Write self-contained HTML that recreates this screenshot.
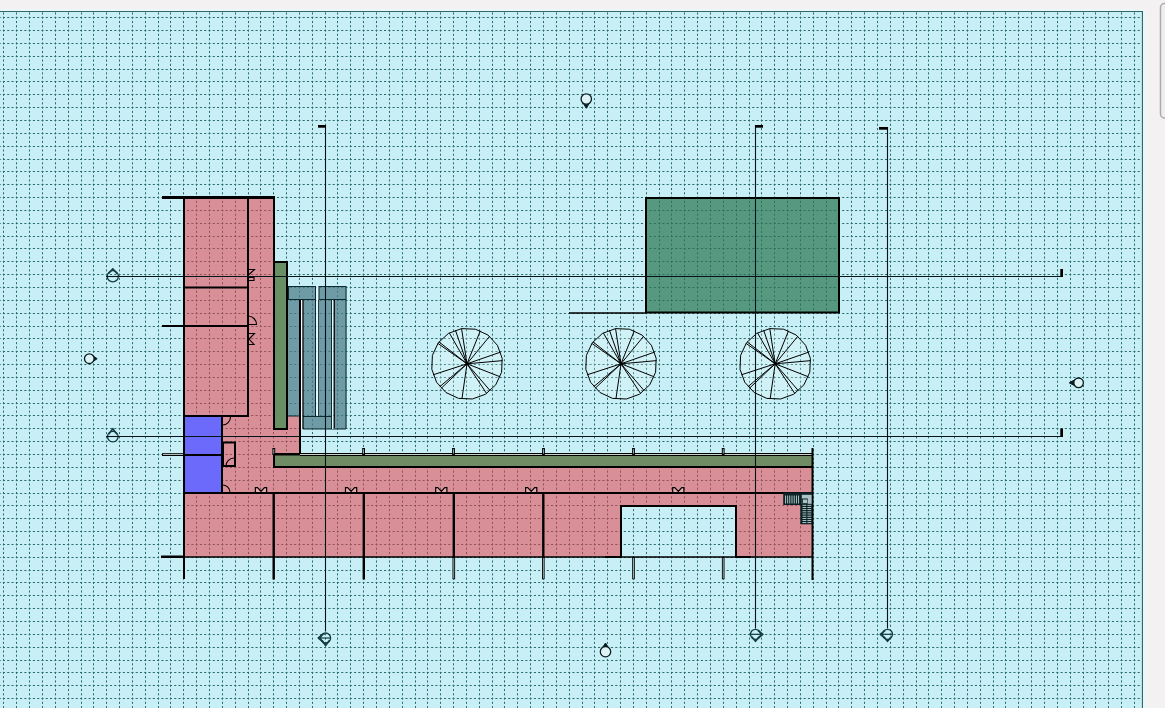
<!DOCTYPE html>
<html><head><meta charset="utf-8">
<style>
html,body{margin:0;padding:0;background:#f3f1f1;overflow:hidden;width:1165px;height:708px;font-family:"Liberation Sans",sans-serif;}
#wrap{position:relative;width:1165px;height:708px;}
svg{position:absolute;left:0;top:0;}
</style></head>
<body><div id="wrap">
<svg width="1165" height="708" viewBox="0 0 1165 708">
<g>
<rect x="0" y="0" width="1165" height="708" fill="#f3f1f1"/>
<rect x="0" y="9" width="1143" height="1.5" fill="#eaf6f7"/>
<rect x="0" y="11" width="1143" height="697" fill="#c7eff5"/>
<g stroke="#2a6c6c" stroke-width="1.0"><line x1="3.50" y1="11" x2="3.50" y2="708" stroke-dasharray="2.1 2.182" stroke-dashoffset="2.884"/><line x1="16.50" y1="11" x2="16.50" y2="708" stroke-dasharray="2.1 2.182" stroke-dashoffset="2.884"/><line x1="29.50" y1="11" x2="29.50" y2="708" stroke-dasharray="2.1 2.182" stroke-dashoffset="2.884"/><line x1="42.50" y1="11" x2="42.50" y2="708" stroke-dasharray="2.1 2.182" stroke-dashoffset="2.884"/><line x1="55.50" y1="11" x2="55.50" y2="708" stroke-dasharray="2.1 2.182" stroke-dashoffset="2.884"/><line x1="68.50" y1="11" x2="68.50" y2="708" stroke-dasharray="2.1 2.182" stroke-dashoffset="2.884"/><line x1="81.50" y1="11" x2="81.50" y2="708" stroke-dasharray="2.1 2.182" stroke-dashoffset="2.884"/><line x1="93.50" y1="11" x2="93.50" y2="708" stroke-dasharray="2.1 2.182" stroke-dashoffset="2.884"/><line x1="106.50" y1="11" x2="106.50" y2="708" stroke-dasharray="2.1 2.182" stroke-dashoffset="2.884"/><line x1="119.50" y1="11" x2="119.50" y2="708" stroke-dasharray="2.1 2.182" stroke-dashoffset="2.884"/><line x1="132.50" y1="11" x2="132.50" y2="708" stroke-dasharray="2.1 2.182" stroke-dashoffset="2.884"/><line x1="145.50" y1="11" x2="145.50" y2="708" stroke-dasharray="2.1 2.182" stroke-dashoffset="2.884"/><line x1="158.50" y1="11" x2="158.50" y2="708" stroke-dasharray="2.1 2.182" stroke-dashoffset="2.884"/><line x1="170.50" y1="11" x2="170.50" y2="708" stroke-dasharray="2.1 2.182" stroke-dashoffset="2.884"/><line x1="183.50" y1="11" x2="183.50" y2="708" stroke-dasharray="2.1 2.182" stroke-dashoffset="2.884"/><line x1="196.50" y1="11" x2="196.50" y2="708" stroke-dasharray="2.1 2.182" stroke-dashoffset="2.884"/><line x1="209.50" y1="11" x2="209.50" y2="708" stroke-dasharray="2.1 2.182" stroke-dashoffset="2.884"/><line x1="222.50" y1="11" x2="222.50" y2="708" stroke-dasharray="2.1 2.182" stroke-dashoffset="2.884"/><line x1="235.50" y1="11" x2="235.50" y2="708" stroke-dasharray="2.1 2.182" stroke-dashoffset="2.884"/><line x1="248.50" y1="11" x2="248.50" y2="708" stroke-dasharray="2.1 2.182" stroke-dashoffset="2.884"/><line x1="260.50" y1="11" x2="260.50" y2="708" stroke-dasharray="2.1 2.182" stroke-dashoffset="2.884"/><line x1="273.50" y1="11" x2="273.50" y2="708" stroke-dasharray="2.1 2.182" stroke-dashoffset="2.884"/><line x1="286.50" y1="11" x2="286.50" y2="708" stroke-dasharray="2.1 2.182" stroke-dashoffset="2.884"/><line x1="299.50" y1="11" x2="299.50" y2="708" stroke-dasharray="2.1 2.182" stroke-dashoffset="2.884"/><line x1="312.50" y1="11" x2="312.50" y2="708" stroke-dasharray="2.1 2.182" stroke-dashoffset="2.884"/><line x1="325.50" y1="11" x2="325.50" y2="708" stroke-dasharray="2.1 2.182" stroke-dashoffset="2.884"/><line x1="337.50" y1="11" x2="337.50" y2="708" stroke-dasharray="2.1 2.182" stroke-dashoffset="2.884"/><line x1="350.50" y1="11" x2="350.50" y2="708" stroke-dasharray="2.1 2.182" stroke-dashoffset="2.884"/><line x1="363.50" y1="11" x2="363.50" y2="708" stroke-dasharray="2.1 2.182" stroke-dashoffset="2.884"/><line x1="376.50" y1="11" x2="376.50" y2="708" stroke-dasharray="2.1 2.182" stroke-dashoffset="2.884"/><line x1="389.50" y1="11" x2="389.50" y2="708" stroke-dasharray="2.1 2.182" stroke-dashoffset="2.884"/><line x1="402.50" y1="11" x2="402.50" y2="708" stroke-dasharray="2.1 2.182" stroke-dashoffset="2.884"/><line x1="415.50" y1="11" x2="415.50" y2="708" stroke-dasharray="2.1 2.182" stroke-dashoffset="2.884"/><line x1="427.50" y1="11" x2="427.50" y2="708" stroke-dasharray="2.1 2.182" stroke-dashoffset="2.884"/><line x1="440.50" y1="11" x2="440.50" y2="708" stroke-dasharray="2.1 2.182" stroke-dashoffset="2.884"/><line x1="453.50" y1="11" x2="453.50" y2="708" stroke-dasharray="2.1 2.182" stroke-dashoffset="2.884"/><line x1="466.50" y1="11" x2="466.50" y2="708" stroke-dasharray="2.1 2.182" stroke-dashoffset="2.884"/><line x1="479.50" y1="11" x2="479.50" y2="708" stroke-dasharray="2.1 2.182" stroke-dashoffset="2.884"/><line x1="492.50" y1="11" x2="492.50" y2="708" stroke-dasharray="2.1 2.182" stroke-dashoffset="2.884"/><line x1="504.50" y1="11" x2="504.50" y2="708" stroke-dasharray="2.1 2.182" stroke-dashoffset="2.884"/><line x1="517.50" y1="11" x2="517.50" y2="708" stroke-dasharray="2.1 2.182" stroke-dashoffset="2.884"/><line x1="530.50" y1="11" x2="530.50" y2="708" stroke-dasharray="2.1 2.182" stroke-dashoffset="2.884"/><line x1="543.50" y1="11" x2="543.50" y2="708" stroke-dasharray="2.1 2.182" stroke-dashoffset="2.884"/><line x1="556.50" y1="11" x2="556.50" y2="708" stroke-dasharray="2.1 2.182" stroke-dashoffset="2.884"/><line x1="569.50" y1="11" x2="569.50" y2="708" stroke-dasharray="2.1 2.182" stroke-dashoffset="2.884"/><line x1="582.50" y1="11" x2="582.50" y2="708" stroke-dasharray="2.1 2.182" stroke-dashoffset="2.884"/><line x1="594.50" y1="11" x2="594.50" y2="708" stroke-dasharray="2.1 2.182" stroke-dashoffset="2.884"/><line x1="607.50" y1="11" x2="607.50" y2="708" stroke-dasharray="2.1 2.182" stroke-dashoffset="2.884"/><line x1="620.50" y1="11" x2="620.50" y2="708" stroke-dasharray="2.1 2.182" stroke-dashoffset="2.884"/><line x1="633.50" y1="11" x2="633.50" y2="708" stroke-dasharray="2.1 2.182" stroke-dashoffset="2.884"/><line x1="646.50" y1="11" x2="646.50" y2="708" stroke-dasharray="2.1 2.182" stroke-dashoffset="2.884"/><line x1="659.50" y1="11" x2="659.50" y2="708" stroke-dasharray="2.1 2.182" stroke-dashoffset="2.884"/><line x1="671.50" y1="11" x2="671.50" y2="708" stroke-dasharray="2.1 2.182" stroke-dashoffset="2.884"/><line x1="684.50" y1="11" x2="684.50" y2="708" stroke-dasharray="2.1 2.182" stroke-dashoffset="2.884"/><line x1="697.50" y1="11" x2="697.50" y2="708" stroke-dasharray="2.1 2.182" stroke-dashoffset="2.884"/><line x1="710.50" y1="11" x2="710.50" y2="708" stroke-dasharray="2.1 2.182" stroke-dashoffset="2.884"/><line x1="723.50" y1="11" x2="723.50" y2="708" stroke-dasharray="2.1 2.182" stroke-dashoffset="2.884"/><line x1="736.50" y1="11" x2="736.50" y2="708" stroke-dasharray="2.1 2.182" stroke-dashoffset="2.884"/><line x1="749.50" y1="11" x2="749.50" y2="708" stroke-dasharray="2.1 2.182" stroke-dashoffset="2.884"/><line x1="761.50" y1="11" x2="761.50" y2="708" stroke-dasharray="2.1 2.182" stroke-dashoffset="2.884"/><line x1="774.50" y1="11" x2="774.50" y2="708" stroke-dasharray="2.1 2.182" stroke-dashoffset="2.884"/><line x1="787.50" y1="11" x2="787.50" y2="708" stroke-dasharray="2.1 2.182" stroke-dashoffset="2.884"/><line x1="800.50" y1="11" x2="800.50" y2="708" stroke-dasharray="2.1 2.182" stroke-dashoffset="2.884"/><line x1="813.50" y1="11" x2="813.50" y2="708" stroke-dasharray="2.1 2.182" stroke-dashoffset="2.884"/><line x1="826.50" y1="11" x2="826.50" y2="708" stroke-dasharray="2.1 2.182" stroke-dashoffset="2.884"/><line x1="838.50" y1="11" x2="838.50" y2="708" stroke-dasharray="2.1 2.182" stroke-dashoffset="2.884"/><line x1="851.50" y1="11" x2="851.50" y2="708" stroke-dasharray="2.1 2.182" stroke-dashoffset="2.884"/><line x1="864.50" y1="11" x2="864.50" y2="708" stroke-dasharray="2.1 2.182" stroke-dashoffset="2.884"/><line x1="877.50" y1="11" x2="877.50" y2="708" stroke-dasharray="2.1 2.182" stroke-dashoffset="2.884"/><line x1="890.50" y1="11" x2="890.50" y2="708" stroke-dasharray="2.1 2.182" stroke-dashoffset="2.884"/><line x1="903.50" y1="11" x2="903.50" y2="708" stroke-dasharray="2.1 2.182" stroke-dashoffset="2.884"/><line x1="916.50" y1="11" x2="916.50" y2="708" stroke-dasharray="2.1 2.182" stroke-dashoffset="2.884"/><line x1="928.50" y1="11" x2="928.50" y2="708" stroke-dasharray="2.1 2.182" stroke-dashoffset="2.884"/><line x1="941.50" y1="11" x2="941.50" y2="708" stroke-dasharray="2.1 2.182" stroke-dashoffset="2.884"/><line x1="954.50" y1="11" x2="954.50" y2="708" stroke-dasharray="2.1 2.182" stroke-dashoffset="2.884"/><line x1="967.50" y1="11" x2="967.50" y2="708" stroke-dasharray="2.1 2.182" stroke-dashoffset="2.884"/><line x1="980.50" y1="11" x2="980.50" y2="708" stroke-dasharray="2.1 2.182" stroke-dashoffset="2.884"/><line x1="993.50" y1="11" x2="993.50" y2="708" stroke-dasharray="2.1 2.182" stroke-dashoffset="2.884"/><line x1="1005.50" y1="11" x2="1005.50" y2="708" stroke-dasharray="2.1 2.182" stroke-dashoffset="2.884"/><line x1="1018.50" y1="11" x2="1018.50" y2="708" stroke-dasharray="2.1 2.182" stroke-dashoffset="2.884"/><line x1="1031.50" y1="11" x2="1031.50" y2="708" stroke-dasharray="2.1 2.182" stroke-dashoffset="2.884"/><line x1="1044.50" y1="11" x2="1044.50" y2="708" stroke-dasharray="2.1 2.182" stroke-dashoffset="2.884"/><line x1="1057.50" y1="11" x2="1057.50" y2="708" stroke-dasharray="2.1 2.182" stroke-dashoffset="2.884"/><line x1="1070.50" y1="11" x2="1070.50" y2="708" stroke-dasharray="2.1 2.182" stroke-dashoffset="2.884"/><line x1="1083.50" y1="11" x2="1083.50" y2="708" stroke-dasharray="2.1 2.182" stroke-dashoffset="2.884"/><line x1="1095.50" y1="11" x2="1095.50" y2="708" stroke-dasharray="2.1 2.182" stroke-dashoffset="2.884"/><line x1="1108.50" y1="11" x2="1108.50" y2="708" stroke-dasharray="2.1 2.182" stroke-dashoffset="2.884"/><line x1="1121.50" y1="11" x2="1121.50" y2="708" stroke-dasharray="2.1 2.182" stroke-dashoffset="2.884"/><line x1="1134.50" y1="11" x2="1134.50" y2="708" stroke-dasharray="2.1 2.182" stroke-dashoffset="2.884"/><line x1="0" y1="17.50" x2="1143" y2="17.50" stroke-dasharray="2.1 2.182" stroke-dashoffset="1.372"/><line x1="0" y1="30.50" x2="1143" y2="30.50" stroke-dasharray="2.1 2.182" stroke-dashoffset="1.372"/><line x1="0" y1="43.50" x2="1143" y2="43.50" stroke-dasharray="2.1 2.182" stroke-dashoffset="1.372"/><line x1="0" y1="56.50" x2="1143" y2="56.50" stroke-dasharray="2.1 2.182" stroke-dashoffset="1.372"/><line x1="0" y1="69.50" x2="1143" y2="69.50" stroke-dasharray="2.1 2.182" stroke-dashoffset="1.372"/><line x1="0" y1="81.50" x2="1143" y2="81.50" stroke-dasharray="2.1 2.182" stroke-dashoffset="1.372"/><line x1="0" y1="94.50" x2="1143" y2="94.50" stroke-dasharray="2.1 2.182" stroke-dashoffset="1.372"/><line x1="0" y1="107.50" x2="1143" y2="107.50" stroke-dasharray="2.1 2.182" stroke-dashoffset="1.372"/><line x1="0" y1="120.50" x2="1143" y2="120.50" stroke-dasharray="2.1 2.182" stroke-dashoffset="1.372"/><line x1="0" y1="133.50" x2="1143" y2="133.50" stroke-dasharray="2.1 2.182" stroke-dashoffset="1.372"/><line x1="0" y1="146.50" x2="1143" y2="146.50" stroke-dasharray="2.1 2.182" stroke-dashoffset="1.372"/><line x1="0" y1="159.50" x2="1143" y2="159.50" stroke-dasharray="2.1 2.182" stroke-dashoffset="1.372"/><line x1="0" y1="171.50" x2="1143" y2="171.50" stroke-dasharray="2.1 2.182" stroke-dashoffset="1.372"/><line x1="0" y1="184.50" x2="1143" y2="184.50" stroke-dasharray="2.1 2.182" stroke-dashoffset="1.372"/><line x1="0" y1="197.50" x2="1143" y2="197.50" stroke-dasharray="2.1 2.182" stroke-dashoffset="1.372"/><line x1="0" y1="210.50" x2="1143" y2="210.50" stroke-dasharray="2.1 2.182" stroke-dashoffset="1.372"/><line x1="0" y1="223.50" x2="1143" y2="223.50" stroke-dasharray="2.1 2.182" stroke-dashoffset="1.372"/><line x1="0" y1="236.50" x2="1143" y2="236.50" stroke-dasharray="2.1 2.182" stroke-dashoffset="1.372"/><line x1="0" y1="248.50" x2="1143" y2="248.50" stroke-dasharray="2.1 2.182" stroke-dashoffset="1.372"/><line x1="0" y1="261.50" x2="1143" y2="261.50" stroke-dasharray="2.1 2.182" stroke-dashoffset="1.372"/><line x1="0" y1="274.50" x2="1143" y2="274.50" stroke-dasharray="2.1 2.182" stroke-dashoffset="1.372"/><line x1="0" y1="287.50" x2="1143" y2="287.50" stroke-dasharray="2.1 2.182" stroke-dashoffset="1.372"/><line x1="0" y1="300.50" x2="1143" y2="300.50" stroke-dasharray="2.1 2.182" stroke-dashoffset="1.372"/><line x1="0" y1="313.50" x2="1143" y2="313.50" stroke-dasharray="2.1 2.182" stroke-dashoffset="1.372"/><line x1="0" y1="326.50" x2="1143" y2="326.50" stroke-dasharray="2.1 2.182" stroke-dashoffset="1.372"/><line x1="0" y1="338.50" x2="1143" y2="338.50" stroke-dasharray="2.1 2.182" stroke-dashoffset="1.372"/><line x1="0" y1="351.50" x2="1143" y2="351.50" stroke-dasharray="2.1 2.182" stroke-dashoffset="1.372"/><line x1="0" y1="364.50" x2="1143" y2="364.50" stroke-dasharray="2.1 2.182" stroke-dashoffset="1.372"/><line x1="0" y1="377.50" x2="1143" y2="377.50" stroke-dasharray="2.1 2.182" stroke-dashoffset="1.372"/><line x1="0" y1="390.50" x2="1143" y2="390.50" stroke-dasharray="2.1 2.182" stroke-dashoffset="1.372"/><line x1="0" y1="403.50" x2="1143" y2="403.50" stroke-dasharray="2.1 2.182" stroke-dashoffset="1.372"/><line x1="0" y1="415.50" x2="1143" y2="415.50" stroke-dasharray="2.1 2.182" stroke-dashoffset="1.372"/><line x1="0" y1="428.50" x2="1143" y2="428.50" stroke-dasharray="2.1 2.182" stroke-dashoffset="1.372"/><line x1="0" y1="441.50" x2="1143" y2="441.50" stroke-dasharray="2.1 2.182" stroke-dashoffset="1.372"/><line x1="0" y1="454.50" x2="1143" y2="454.50" stroke-dasharray="2.1 2.182" stroke-dashoffset="1.372"/><line x1="0" y1="467.50" x2="1143" y2="467.50" stroke-dasharray="2.1 2.182" stroke-dashoffset="1.372"/><line x1="0" y1="480.50" x2="1143" y2="480.50" stroke-dasharray="2.1 2.182" stroke-dashoffset="1.372"/><line x1="0" y1="493.50" x2="1143" y2="493.50" stroke-dasharray="2.1 2.182" stroke-dashoffset="1.372"/><line x1="0" y1="505.50" x2="1143" y2="505.50" stroke-dasharray="2.1 2.182" stroke-dashoffset="1.372"/><line x1="0" y1="518.50" x2="1143" y2="518.50" stroke-dasharray="2.1 2.182" stroke-dashoffset="1.372"/><line x1="0" y1="531.50" x2="1143" y2="531.50" stroke-dasharray="2.1 2.182" stroke-dashoffset="1.372"/><line x1="0" y1="544.50" x2="1143" y2="544.50" stroke-dasharray="2.1 2.182" stroke-dashoffset="1.372"/><line x1="0" y1="557.50" x2="1143" y2="557.50" stroke-dasharray="2.1 2.182" stroke-dashoffset="1.372"/><line x1="0" y1="570.50" x2="1143" y2="570.50" stroke-dasharray="2.1 2.182" stroke-dashoffset="1.372"/><line x1="0" y1="582.50" x2="1143" y2="582.50" stroke-dasharray="2.1 2.182" stroke-dashoffset="1.372"/><line x1="0" y1="595.50" x2="1143" y2="595.50" stroke-dasharray="2.1 2.182" stroke-dashoffset="1.372"/><line x1="0" y1="608.50" x2="1143" y2="608.50" stroke-dasharray="2.1 2.182" stroke-dashoffset="1.372"/><line x1="0" y1="621.50" x2="1143" y2="621.50" stroke-dasharray="2.1 2.182" stroke-dashoffset="1.372"/><line x1="0" y1="634.50" x2="1143" y2="634.50" stroke-dasharray="2.1 2.182" stroke-dashoffset="1.372"/><line x1="0" y1="647.50" x2="1143" y2="647.50" stroke-dasharray="2.1 2.182" stroke-dashoffset="1.372"/><line x1="0" y1="660.50" x2="1143" y2="660.50" stroke-dasharray="2.1 2.182" stroke-dashoffset="1.372"/><line x1="0" y1="672.50" x2="1143" y2="672.50" stroke-dasharray="2.1 2.182" stroke-dashoffset="1.372"/><line x1="0" y1="685.50" x2="1143" y2="685.50" stroke-dasharray="2.1 2.182" stroke-dashoffset="1.372"/><line x1="0" y1="698.50" x2="1143" y2="698.50" stroke-dasharray="2.1 2.182" stroke-dashoffset="1.372"/></g>
<path fill="rgba(230,63,72,0.55)" fill-rule="evenodd" d="M184 197 H274 V262 H287 V286 H288 V416 H300 V454 H274 V467 H812 V557 H184 Z M621 506 H736 V557 H621 Z"/>
<path fill="rgba(230,63,72,0.55)" d="M274 429 H288 V416 H274 Z" opacity="0"/>
<rect x="184" y="416" width="38" height="77" fill="#6c6afa" />
<rect x="274" y="262" width="13.5" height="167" fill="#698f64" />
<rect x="274" y="455" width="538" height="12" fill="#708c64" />
<rect x="288" y="286" width="28" height="14" fill="rgba(80,125,138,0.74)" />
<rect x="288" y="300" width="12" height="116" fill="rgba(80,125,138,0.74)" />
<rect x="303" y="300" width="13" height="116" fill="rgba(80,125,138,0.74)" />
<rect x="303" y="416" width="28.5" height="13" fill="rgba(80,125,138,0.74)" />
<rect x="318.5" y="286" width="28" height="14" fill="rgba(80,125,138,0.74)" />
<rect x="318.5" y="300" width="13" height="116" fill="rgba(80,125,138,0.74)" />
<rect x="335" y="300" width="11.5" height="129" fill="rgba(80,125,138,0.74)" />
<rect x="646" y="197.5" width="193.5" height="115" fill="rgba(45,118,85,0.72)" />
<rect x="162" y="196" width="113" height="3" fill="#000" />
<rect x="183" y="197" width="2" height="382" fill="#000" />
<rect x="247" y="197" width="2" height="220" fill="#000" />
<rect x="273" y="197" width="2" height="65" fill="#000" />
<rect x="184" y="286.5" width="64" height="2" fill="#000" />
<rect x="162" y="325" width="86" height="2" fill="#000" />
<rect x="184" y="415" width="64" height="2" fill="#000" />
<rect x="221" y="416" width="2" height="77" fill="#000" />
<rect x="162" y="454" width="60" height="2" fill="#000" />
<rect x="162" y="453.2" width="22" height="2.6" fill="#000" />
<rect x="163" y="454.1" width="20" height="0.8" fill="#dcefef" />
<rect x="223" y="442.5" width="12" height="23.5" fill="none" stroke="#000" stroke-width="2"/>
<rect x="274" y="262" width="13" height="167" fill="none" stroke="#000" stroke-width="2"/>
<rect x="299" y="300" width="2" height="155" fill="#000" />
<rect x="300" y="454" width="512" height="1" fill="#c3d3c2" />
<line x1="300" y1="453.5" x2="812" y2="453.5" stroke="#000" stroke-width="1" />
<line x1="300" y1="455.5" x2="812" y2="455.5" stroke="#000" stroke-width="1" />
<rect x="274" y="453" width="26" height="2.5" fill="#000" />
<rect x="273" y="453" width="2" height="15" fill="#000" />
<rect x="274" y="466" width="538" height="2" fill="#000" />
<rect x="272.40000000000003" y="448" width="2.8" height="7" fill="#000" />
<rect x="273.40000000000003" y="449.2" width="0.8" height="4.5" fill="#b8cfd2" />
<rect x="362.20000000000005" y="448" width="2.8" height="7" fill="#000" />
<rect x="363.20000000000005" y="449.2" width="0.8" height="4.5" fill="#b8cfd2" />
<rect x="452.1" y="448" width="2.8" height="7" fill="#000" />
<rect x="453.1" y="449.2" width="0.8" height="4.5" fill="#b8cfd2" />
<rect x="542.1" y="448" width="2.8" height="7" fill="#000" />
<rect x="543.1" y="449.2" width="0.8" height="4.5" fill="#b8cfd2" />
<rect x="632.1" y="448" width="2.8" height="7" fill="#000" />
<rect x="633.1" y="449.2" width="0.8" height="4.5" fill="#b8cfd2" />
<rect x="721.8000000000001" y="448" width="2.8" height="7" fill="#000" />
<rect x="722.8000000000001" y="449.2" width="0.8" height="4.5" fill="#b8cfd2" />
<rect x="184" y="492" width="628" height="2" fill="#000" />
<rect x="272.5" y="493" width="2.4" height="86.5" fill="#000" />
<rect x="362.6" y="493" width="2.4" height="86.5" fill="#000" />
<rect x="452.6" y="493" width="2.4" height="65" fill="#000" />
<rect x="542.0999999999999" y="493" width="2.4" height="65" fill="#000" />
<rect x="452.5" y="557" width="2.6" height="22.3" fill="#000" />
<rect x="453.40000000000003" y="558" width="0.8" height="20.5" fill="#bfd6d8" />
<rect x="542.0" y="557" width="2.6" height="22.3" fill="#000" />
<rect x="542.9" y="558" width="0.8" height="20.5" fill="#bfd6d8" />
<rect x="632.2" y="557" width="2.6" height="22.3" fill="#000" />
<rect x="633.1" y="558" width="0.8" height="20.5" fill="#bfd6d8" />
<rect x="721.9000000000001" y="557" width="2.6" height="22.3" fill="#000" />
<rect x="722.8000000000001" y="558" width="0.8" height="20.5" fill="#bfd6d8" />
<rect x="811.5" y="448" width="2" height="132" fill="#000" />
<line x1="184" y1="557" x2="812" y2="557" stroke="#000" stroke-width="1.5" />
<rect x="161" y="555.5" width="24" height="2.5" fill="#000" />
<rect x="620" y="505" width="2" height="52" fill="#000" />
<rect x="620" y="505" width="117" height="2" fill="#000" />
<rect x="735" y="505" width="2" height="52" fill="#000" />
<rect x="605" y="556" width="17" height="2" fill="#000" />
<rect x="735" y="556" width="16" height="2" fill="#000" />
<g fill="none" stroke="#0c2a30" stroke-width="1">
<rect x="288.5" y="286.5" width="27" height="13"/>
<rect x="319.0" y="286.5" width="27" height="13"/>
<line x1="315.5" y1="300" x2="315.5" y2="416"/>
<line x1="318.5" y1="300" x2="318.5" y2="416"/>
<line x1="331.5" y1="300" x2="331.5" y2="429"/>
<line x1="346" y1="300" x2="346" y2="429"/>
<line x1="303" y1="429" x2="346" y2="429"/>
<line x1="303" y1="416.5" x2="331.5" y2="416.5"/>
<line x1="288" y1="416" x2="300" y2="416"/>
</g>
<rect x="302.2" y="300" width="1.4" height="129" fill="#000" />
<rect x="333.4" y="300" width="1.5" height="128" fill="#000" />
<rect x="301" y="300" width="1.2" height="129" fill="#eef8fa" />
<rect x="316.3" y="286" width="1.8" height="130" fill="#eef8fa" />
<rect x="332.1" y="300" width="1.2" height="129" fill="#eef8fa" />
<rect x="646" y="198" width="193" height="114.5" fill="none" stroke="#000" stroke-width="2"/>
<line x1="569" y1="313" x2="646" y2="313" stroke="#000" stroke-width="1.6" />
<g fill="none" stroke="#000" stroke-width="1.1">
<path d="M248 316 A8.5 8.5 0 0 1 256.5 324.5 H248"/>
<path d="M222.5 425 A8 8 0 0 0 230.5 417"/>
<path d="M226 466 A8 8 0 0 1 234 458"/>
<path d="M222.5 485 A7.5 7.5 0 0 1 230 492.5"/>
<path d="M248.5 269.5 H254.5 L249 274.5 M249 277.5 H254 V280.5 H249"/>
<path d="M248.5 333.5 H254.5 L249 339 L254 344.5 H249"/>
</g>
<g fill="rgba(255,225,230,0.35)" stroke="#000" stroke-width="1.2">
<path d="M255.4 492.5 V487.6 H257.5 L261.0 491.4 L264.5 487.6 H266.6 V492.5 Z"/>
<path d="M345.5 492.5 V487.6 H347.6 L351.1 491.4 L354.59999999999997 487.6 H356.7 V492.5 Z"/>
<path d="M435.7 492.5 V487.6 H437.8 L441.29999999999995 491.4 L444.79999999999995 487.6 H446.9 V492.5 Z"/>
<path d="M525.6 492.5 V487.6 H527.7 L531.2 491.4 L534.7 487.6 H536.8000000000001 V492.5 Z"/>
<path d="M672.7 492.5 V487.6 H674.8000000000001 L678.3000000000001 491.4 L681.8000000000001 487.6 H683.9000000000001 V492.5 Z"/>
</g>
<rect x="783.2" y="492.5" width="29" height="12.5" fill="#0d2224" />
<rect x="800.3" y="492.5" width="11.7" height="31.8" fill="#0d2224" />
<rect x="801.8" y="494.8" width="9.8" height="9" fill="#a9c3c8" />
<rect x="801.8" y="498.5" width="6" height="5.3" fill="#0d2224" />
<rect x="802.8" y="499.5" width="4.5" height="3.5" fill="#a9c3c8" />
<rect x="785.15" y="495.5" width="0.9" height="8" fill="#b9d6da" />
<rect x="787.25" y="495.5" width="0.9" height="8" fill="#b9d6da" />
<rect x="789.3499999999999" y="495.5" width="0.9" height="8" fill="#b9d6da" />
<rect x="791.55" y="495.5" width="0.9" height="8" fill="#b9d6da" />
<rect x="793.75" y="495.5" width="0.9" height="8" fill="#b9d6da" />
<rect x="795.9499999999999" y="495.5" width="0.9" height="8" fill="#b9d6da" />
<rect x="798.15" y="495.5" width="0.9" height="8" fill="#b9d6da" />
<rect x="802.5" y="504.85" width="3.8" height="0.9" fill="#b9d6da" />
<rect x="807.4" y="504.85" width="3.8" height="0.9" fill="#b9d6da" />
<rect x="802.5" y="507.05" width="3.8" height="0.9" fill="#b9d6da" />
<rect x="807.4" y="507.05" width="3.8" height="0.9" fill="#b9d6da" />
<rect x="802.5" y="509.15000000000003" width="3.8" height="0.9" fill="#b9d6da" />
<rect x="807.4" y="509.15000000000003" width="3.8" height="0.9" fill="#b9d6da" />
<rect x="802.5" y="511.35" width="3.8" height="0.9" fill="#b9d6da" />
<rect x="807.4" y="511.35" width="3.8" height="0.9" fill="#b9d6da" />
<rect x="802.5" y="513.55" width="3.8" height="0.9" fill="#b9d6da" />
<rect x="807.4" y="513.55" width="3.8" height="0.9" fill="#b9d6da" />
<rect x="802.5" y="515.75" width="3.8" height="0.9" fill="#b9d6da" />
<rect x="807.4" y="515.75" width="3.8" height="0.9" fill="#b9d6da" />
<rect x="802.5" y="517.9499999999999" width="3.8" height="0.9" fill="#b9d6da" />
<rect x="807.4" y="517.9499999999999" width="3.8" height="0.9" fill="#b9d6da" />
<rect x="802.5" y="520.05" width="3.8" height="0.9" fill="#b9d6da" />
<rect x="807.4" y="520.05" width="3.8" height="0.9" fill="#b9d6da" />
<rect x="802.5" y="522.15" width="3.8" height="0.9" fill="#b9d6da" />
<rect x="807.4" y="522.15" width="3.8" height="0.9" fill="#b9d6da" />
<polygon points="461.55,328.62 475.43,329.21 488.03,335.07 497.42,345.31 502.18,358.35 501.59,372.23 495.73,384.83 485.49,394.22 472.45,398.98 458.57,398.39 445.97,392.53 436.58,382.29 431.82,369.25 432.41,355.37 438.27,342.77 448.51,333.38" fill="rgba(235,248,250,0.25)" stroke="#000" stroke-width="1"/>
<path d="M467.0 363.8 L437.84 343.38 M467.0 363.8 L438.95 341.88 M467.0 363.8 L449.31 332.91 M467.0 363.8 L455.41 330.14 M467.0 363.8 L461.55 328.62 M467.0 363.8 L480.34 330.79 M467.0 363.8 L489.60 336.29 M467.0 363.8 L500.62 352.09 M467.0 363.8 L502.46 360.64 M467.0 363.8 L500.15 376.79 M467.0 363.8 L490.26 390.75 M467.0 363.8 L486.60 393.52 M467.0 363.8 L461.92 399.04 M467.0 363.8 L441.18 388.31 M467.0 363.8 L439.73 386.68 M467.0 363.8 L433.14 374.80" stroke="#000" stroke-width="1" fill="none"/>
<circle cx="467" cy="363.8" r="1.6" fill="#000"/>
<polygon points="615.55,328.62 629.43,329.21 642.03,335.07 651.42,345.31 656.18,358.35 655.59,372.23 649.73,384.83 639.49,394.22 626.45,398.98 612.57,398.39 599.97,392.53 590.58,382.29 585.82,369.25 586.41,355.37 592.27,342.77 602.51,333.38" fill="rgba(235,248,250,0.25)" stroke="#000" stroke-width="1"/>
<path d="M621.0 363.8 L591.84 343.38 M621.0 363.8 L592.95 341.88 M621.0 363.8 L603.31 332.91 M621.0 363.8 L609.41 330.14 M621.0 363.8 L615.55 328.62 M621.0 363.8 L634.34 330.79 M621.0 363.8 L643.60 336.29 M621.0 363.8 L654.62 352.09 M621.0 363.8 L656.46 360.64 M621.0 363.8 L654.15 376.79 M621.0 363.8 L644.26 390.75 M621.0 363.8 L640.60 393.52 M621.0 363.8 L615.92 399.04 M621.0 363.8 L595.18 388.31 M621.0 363.8 L593.73 386.68 M621.0 363.8 L587.14 374.80" stroke="#000" stroke-width="1" fill="none"/>
<circle cx="621" cy="363.8" r="1.6" fill="#000"/>
<polygon points="769.75,328.62 783.63,329.21 796.23,335.07 805.62,345.31 810.38,358.35 809.79,372.23 803.93,384.83 793.69,394.22 780.65,398.98 766.77,398.39 754.17,392.53 744.78,382.29 740.02,369.25 740.61,355.37 746.47,342.77 756.71,333.38" fill="rgba(235,248,250,0.25)" stroke="#000" stroke-width="1"/>
<path d="M775.2 363.8 L746.04 343.38 M775.2 363.8 L747.15 341.88 M775.2 363.8 L757.51 332.91 M775.2 363.8 L763.61 330.14 M775.2 363.8 L769.75 328.62 M775.2 363.8 L788.54 330.79 M775.2 363.8 L797.80 336.29 M775.2 363.8 L808.82 352.09 M775.2 363.8 L810.66 360.64 M775.2 363.8 L808.35 376.79 M775.2 363.8 L798.46 390.75 M775.2 363.8 L794.80 393.52 M775.2 363.8 L770.12 399.04 M775.2 363.8 L749.38 388.31 M775.2 363.8 L747.93 386.68 M775.2 363.8 L741.34 374.80" stroke="#000" stroke-width="1" fill="none"/>
<circle cx="775.2" cy="363.8" r="1.6" fill="#000"/>
<line x1="325.5" y1="125" x2="325.5" y2="631.5" stroke="#06141a" stroke-width="1.1" />
<line x1="755.5" y1="125" x2="755.5" y2="628.5" stroke="#06141a" stroke-width="1.1" />
<line x1="887.5" y1="127" x2="887.5" y2="628.5" stroke="#06141a" stroke-width="1.1" />
<line x1="106" y1="276.5" x2="1063" y2="276.5" stroke="#06141a" stroke-width="1.1" />
<line x1="106" y1="436.5" x2="1063" y2="436.5" stroke="#06141a" stroke-width="1.1" />
<rect x="318" y="125" width="8" height="2.7" fill="#000" />
<rect x="755" y="125" width="8" height="2.7" fill="#000" />
<rect x="879" y="127" width="9" height="2.7" fill="#000" />
<rect x="1060.3" y="269" width="2.7" height="8" fill="#000" />
<rect x="1060.3" y="428.5" width="2.7" height="8.5" fill="#000" />
<path d="M108.3 273.8 L112.8 268.9 L117.3 273.8" fill="none" stroke="#123c40" stroke-width="1.6" stroke-linejoin="round"/>
<circle cx="112.8" cy="276.3" r="5.6" fill="none" stroke="#123c40" stroke-width="1.3"/>
<path d="M108.6 434.2 L112.8 428.7 L117.0 434.2" fill="none" stroke="#123c40" stroke-width="1.6" stroke-linejoin="round"/>
<circle cx="112.8" cy="436.6" r="5.3" fill="none" stroke="#123c40" stroke-width="1.3"/>
<path d="M582.1 101.3 L586.3 108.3 L590.5 101.3 Z" fill="#0a1e22" stroke="#0a1e22" stroke-width="1"/>
<circle cx="586.3" cy="99" r="5.2" fill="#def3f6" stroke="#0a1e22" stroke-width="1.3"/>
<path d="M91.5 354.9 L97.2 358.7 L91.5 362.5 Z" fill="#0a1e22" stroke="#0a1e22" stroke-width="1"/>
<circle cx="89.3" cy="358.7" r="4.8" fill="#def3f6" stroke="#0a1e22" stroke-width="1.3"/>
<path d="M1076.4 379.0 L1069.2 382.8 L1076.4 386.6 Z" fill="#0a1e22" stroke="#0a1e22" stroke-width="1"/>
<circle cx="1078.6" cy="382.8" r="4.8" fill="#def3f6" stroke="#0a1e22" stroke-width="1.3"/>
<path d="M323.4 634.0 L318.3 638.0 L323.4 642.0" fill="none" stroke="#123c40" stroke-width="1.6" stroke-linejoin="round"/>
<path d="M321.6 640.2 L325.6 645.5 L329.6 640.2" fill="none" stroke="#123c40" stroke-width="1.6" stroke-linejoin="round"/>
<circle cx="325.6" cy="638" r="5.0" fill="none" stroke="#123c40" stroke-width="1.3"/>
<line x1="320.6" y1="638" x2="330.6" y2="638" stroke="#123c40" stroke-width="1.2"/>
<path d="M757.8 630.3 L762.9 634.3 L757.8 638.3" fill="none" stroke="#123c40" stroke-width="1.6" stroke-linejoin="round"/>
<path d="M751.5 636.5 L755.5 641.3 L759.5 636.5" fill="none" stroke="#123c40" stroke-width="1.6" stroke-linejoin="round"/>
<circle cx="755.5" cy="634.3" r="5.0" fill="none" stroke="#123c40" stroke-width="1.3"/>
<line x1="750.5" y1="634.3" x2="760.5" y2="634.3" stroke="#123c40" stroke-width="1.2"/>
<path d="M885.2 630.3 L880.3 634.3 L885.2 638.3" fill="none" stroke="#123c40" stroke-width="1.6" stroke-linejoin="round"/>
<path d="M883.5 636.5 L887.5 641.3 L891.5 636.5" fill="none" stroke="#123c40" stroke-width="1.6" stroke-linejoin="round"/>
<circle cx="887.5" cy="634.3" r="5.0" fill="none" stroke="#123c40" stroke-width="1.3"/>
<line x1="882.5" y1="634.3" x2="892.5" y2="634.3" stroke="#123c40" stroke-width="1.2"/>
<path d="M601.3 649.4 L605.5 643.0 L609.7 649.4 Z" fill="#0a1e22" stroke="#0a1e22" stroke-width="1"/>
<circle cx="605.5" cy="651.7" r="5.2" fill="#def3f6" stroke="#0a1e22" stroke-width="1.3"/>
<line x1="106" y1="276.5" x2="120" y2="276.5" stroke="#06141a" stroke-width="1.1" />
<line x1="106" y1="436.5" x2="120" y2="436.5" stroke="#06141a" stroke-width="1.1" />
<line x1="0" y1="11.5" x2="1143" y2="11.5" stroke="#2f6868" stroke-width="1"/>
<line x1="1142.5" y1="11" x2="1142.5" y2="708" stroke="#2f6868" stroke-width="1.2"/>
<rect x="1143" y="11" width="5" height="697" fill="#eff4f4"/>
<rect x="1160.5" y="3.5" width="10" height="114.5" rx="4" fill="#efefef" stroke="#ababab" stroke-width="1.5"/>
</g>
</svg>
</div></body></html>
